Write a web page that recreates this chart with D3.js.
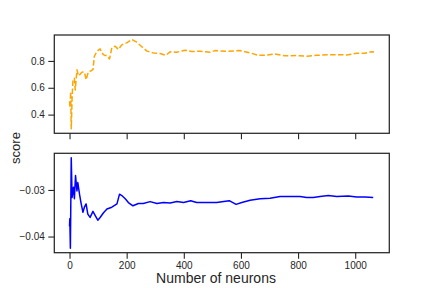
<!DOCTYPE html>
<html>
<head>
<meta charset="utf-8">
<script src="https://cdn.jsdelivr.net/npm/d3@7"></script>
<style>
  body { margin: 0; background: #fff; }
  svg { display: block; font-family: "Liberation Sans", Arial, sans-serif; }
  .tick text { fill: #262626; font-size: 10px; }
  .tick line { stroke: #262626; stroke-width: 1.1; }
  .domain { display: none; }
</style>
</head>
<body>
<svg id="chart" width="432" height="288"></svg>
<script>
var neuronsTop = [0, 2, 4, 6, 9, 12, 17, 20, 26, 31, 37, 43, 49, 54, 58, 62, 66, 74, 82, 87, 96, 107, 113, 119, 125, 131, 140, 148, 160, 171, 183, 200, 218, 235, 253, 271, 294, 317, 337, 352, 375, 405, 428, 457, 492, 509, 550, 597, 632, 661, 684, 719, 754, 795, 830, 865, 923, 970, 1005, 1034, 1057, 1066];
var scoreTop = [0.50, 0.45, 0.57, 0.294, 0.52, 0.659, 0.67, 0.583, 0.734, 0.69, 0.70, 0.715, 0.72, 0.70, 0.66, 0.69, 0.72, 0.725, 0.735, 0.835, 0.872, 0.89, 0.86, 0.847, 0.84, 0.84, 0.815, 0.898, 0.91, 0.885, 0.92, 0.935, 0.96, 0.94, 0.906, 0.873, 0.86, 0.855, 0.842, 0.868, 0.865, 0.88, 0.87, 0.872, 0.865, 0.877, 0.872, 0.877, 0.86, 0.842, 0.842, 0.852, 0.838, 0.84, 0.835, 0.842, 0.847, 0.845, 0.857, 0.857, 0.868, 0.866];

var neuronsBottom = [0, 1, 3, 6, 9, 14, 17, 21, 26, 29, 35, 40, 47, 52, 58, 64, 72, 82, 90, 99, 107, 119, 131, 148, 166, 175, 183, 195, 206, 222, 241, 258, 282, 306, 329, 352, 376, 399, 424, 445, 480, 515, 559, 583, 603, 632, 667, 702, 737, 772, 807, 830, 853, 877, 906, 935, 976, 1005, 1034, 1063];
var scoreBottom = [-0.0378, -0.0362, -0.0425, -0.0231, -0.0316, -0.0294, -0.0319, -0.0269, -0.0302, -0.0284, -0.0309, -0.0327, -0.0348, -0.0337, -0.0330, -0.0352, -0.0359, -0.0346, -0.0355, -0.0365, -0.0359, -0.0349, -0.0341, -0.0337, -0.0330, -0.0309, -0.0312, -0.0319, -0.0327, -0.0334, -0.0329, -0.0329, -0.0325, -0.0329, -0.0327, -0.0328, -0.0325, -0.0327, -0.0323, -0.0327, -0.0327, -0.0327, -0.0323, -0.0331, -0.0327, -0.0322, -0.0319, -0.0318, -0.0314, -0.0314, -0.0314, -0.0316, -0.0316, -0.0314, -0.0312, -0.0314, -0.0313, -0.0315, -0.0315, -0.0316];

var xTicks = [0, 200, 400, 600, 800, 1000];
var yTicksTop = [0.4, 0.6, 0.8];
var yTicksBottom = [-0.04, -0.03];

var svg = d3.select('#chart');
var left = 54.3, right = 389.3;

function padded(ext) {
  var m = (ext[1] - ext[0]) * 0.05;
  return [ext[0] - m, ext[1] + m];
}

var x = d3.scaleLinear()
  .domain(padded(d3.extent(neuronsTop.concat(neuronsBottom))))
  .range([left, right]);

/* ---------------------------------------------------------------*/
function drawPanel(top, bottom, xs, ys, yTicks, yFmt, color, dash, showXLabels) {
  var y = d3.scaleLinear().domain(padded(d3.extent(ys))).range([bottom, top]);
  var g = svg.append('g');

  var line = d3.line()
    .x(function(d, i) { return x(xs[i]); })
    .y(function(d) { return y(d); });

  g.append('path')
    .datum(ys)
    .attr('d', line)
    .attr('fill', 'none')
    .attr('stroke', color)
    .attr('stroke-width', 1.5)
    .attr('stroke-dasharray', dash)
    .attr('stroke-linejoin', 'round');

  g.append('g')
    .attr('transform', 'translate(0,' + bottom + ')')
    .call(d3.axisBottom(x).tickValues(xTicks).tickSize(6).tickPadding(3.5)
      .tickFormat(showXLabels ? d3.format('d') : ''));

  g.append('g')
    .attr('transform', 'translate(' + left + ',0)')
    .call(d3.axisLeft(y).tickValues(yTicks).tickSize(6).tickPadding(3.5).tickFormat(d3.format(yFmt)));

  g.append('rect')
    .attr('x', left).attr('y', top)
    .attr('width', right - left).attr('height', bottom - top)
    .attr('fill', 'none')
    .attr('stroke', '#262626')
    .attr('stroke-width', 1.25);
}

drawPanel(35, 133.3, neuronsTop, scoreTop, yTicksTop, '.1f', 'orange', '5.5,2.4', false);
drawPanel(153.3, 252.7, neuronsBottom, scoreBottom, yTicksBottom, '.2f', 'blue', null, true);

svg.append('text')
  .attr('x', 216).attr('y', 282.5)
  .attr('text-anchor', 'middle')
  .attr('font-size', 14)
  .attr('fill', '#262626')
  .text('Number of neurons');

svg.append('text')
  .attr('transform', 'translate(20,148) rotate(-90)')
  .attr('text-anchor', 'middle')
  .attr('font-size', 13)
  .attr('fill', '#262626')
  .text('score');
</script>
</body>
</html>
